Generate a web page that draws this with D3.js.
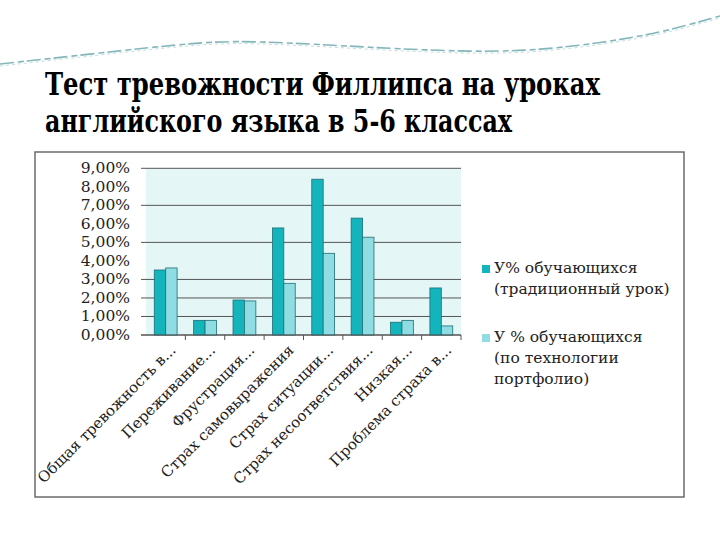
<!DOCTYPE html>
<html><head><meta charset="utf-8">
<script src="https://cdn.jsdelivr.net/npm/d3@7"></script>
<style>
html,body{margin:0;padding:0;background:#fff;}
svg{display:block;}
.serif{font-family:"DejaVu Serif",serif;}
.title{font-family:"DejaVu Serif Condensed","DejaVu Serif",serif;font-stretch:condensed;}
</style>
</head><body>
<svg id="c" width="720" height="540"></svg>
<script>
const titleLines = ["Тест тревожности Филлипса на уроках", "английского языка в 5-6 классах"];
const categories = ["Общая тревожность в...", "Переживание...", "Фрустрация...", "Страх самовыражения", "Страх ситуации...", "Страх несоответствия...", "Низкая...", "Проблема страха в..."];
const seriesNames = [["У% обучающихся", "(традиционный урок)"], ["У % обучающихся", "(по технологии", "портфолио)"]];
const traditional = [3.51, 0.79, 1.89, 5.78, 8.41, 6.31, 0.69, 2.54];
const portfolio = [3.62, 0.79, 1.84, 2.79, 4.41, 5.28, 0.79, 0.49];
const yTicks = [0, 1, 2, 3, 4, 5, 6, 7, 8, 9];
const gridValues = [0, 1, 2, 3, 5, 7, 9];
const colors = ["#14b4bd", "#8fdce2"];

const svg = d3.select("#c");

// decorative wave
const wave = [[0,64],[100,53],[200,42],[250,41],[330,45],[400,49],[480,52],[540,50],[600,43],[660,33],[720,16]];
const line = d3.line().curve(d3.curveBasis);
svg.append("path").attr("d", line(wave)).attr("fill","none")
  .attr("stroke","#5a9ea3").attr("stroke-width",1.6).attr("stroke-dasharray","14 4 6 3").attr("opacity",0.75);
svg.append("path").attr("d", line(wave.map(p=>[p[0],p[1]+2]))).attr("fill","none")
  .attr("stroke","#9cc7ca").attr("stroke-width",1).attr("stroke-dasharray","3 3").attr("opacity",0.6);

// title
const tw = [555, 467];
svg.append("g").selectAll("text").data(titleLines).join("text")
  .attr("class","title")
  .attr("x", 45).attr("y", (d,i)=>95 + i*37)
  .attr("font-weight","bold").attr("font-size",31).attr("fill","#000")
  .attr("textLength",(d,i)=>tw[i]).attr("lengthAdjust","spacingAndGlyphs")
  .text(d=>d);

// chart frame
svg.append("rect").attr("x",35).attr("y",152).attr("width",649).attr("height",345)
  .attr("fill","#fff").attr("stroke","#6b6b6b").attr("stroke-width",1.5);

const x0 = 146, x1 = 461, yTop = 168.3, yBot = 335;
const x = d3.scaleBand().domain(categories).range([x0, x1]).paddingInner(0.42).paddingOuter(0.21);
const xs = d3.scaleBand().domain([0,1]).range([0, x.bandwidth()]);
const y = d3.scaleLinear().domain([0, 9]).range([yBot, yTop]);

// plot bg
svg.append("rect").attr("x",x0).attr("y",y(9)).attr("width",x1-x0).attr("height",yBot-y(9)).attr("fill","#e5f6f7");

// gridlines
svg.append("g").selectAll("line").data(gridValues).join("line")
  .attr("x1",141).attr("x2",x1).attr("y1",d=>y(d)).attr("y2",d=>y(d))
  .attr("stroke","#555").attr("stroke-width",1);

// y labels
svg.append("g").selectAll("text").data(yTicks).join("text")
  .attr("class","serif")
  .attr("x",130).attr("y",d=>y(d)+5).attr("text-anchor","end")
  .attr("font-size",15.5).attr("fill","#222")
  .text(d=>d3.format(".2f")(d).replace(".", ",") + "%");

// bars
const series = [traditional, portfolio];
const g = svg.append("g");
series.forEach((vals, si)=>{
  g.selectAll(".b"+si).data(vals).join("rect")
    .attr("x",(d,i)=>x(categories[i]) + xs(si))
    .attr("y",d=>y(d)).attr("width",xs.bandwidth()).attr("height",d=>yBot-y(d))
    .attr("fill",colors[si]).attr("stroke","#1d6f74").attr("stroke-width",0.8);
});

// x axis
svg.append("line").attr("x1",141).attr("x2",x1).attr("y1",yBot).attr("y2",yBot).attr("stroke","#555").attr("stroke-width",1);
svg.append("g").selectAll("line").data(categories).join("line")
  .attr("x1",(d,i)=>x0 + (i+1)*(x1-x0)/categories.length).attr("x2",(d,i)=>x0 + (i+1)*(x1-x0)/categories.length)
  .attr("y1",yBot).attr("y2",yBot+5).attr("stroke","#555");

// x labels
svg.append("g").selectAll("text").data(categories).join("text")
  .attr("class","serif")
  .attr("transform", d=>`translate(${x(d)+x.bandwidth()/2+11},${yBot+16}) rotate(-45)`)
  .attr("text-anchor","end")
  .attr("font-size",15).attr("fill","#222")
  .text(d=>d);

// legend
const leg = svg.append("g");
const legY = [265, 334];
seriesNames.forEach((lines, si)=>{
  leg.append("rect").attr("x",482).attr("y",legY[si]).attr("width",8).attr("height",8)
    .attr("fill",colors[si]);
  leg.selectAll(".l"+si).data(lines).join("text")
    .attr("class","serif")
    .attr("x",494).attr("y",(d,i)=>legY[si]+8+i*21)
    .attr("font-size",15.5).attr("fill","#222")
    .text(d=>d);
});
</script>
</body></html>
